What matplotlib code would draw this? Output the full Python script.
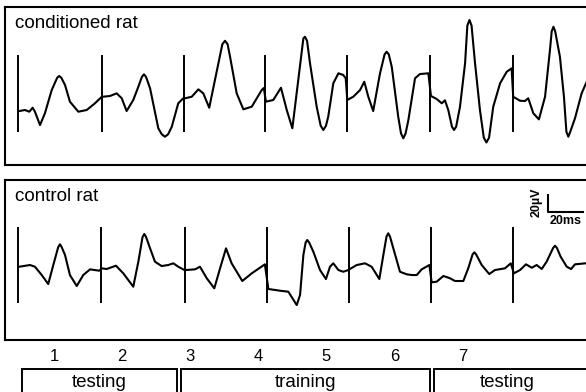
import matplotlib
matplotlib.use("Agg")
import matplotlib.pyplot as plt
from matplotlib.patches import Rectangle

plt.rcParams['font.family'] = ['Liberation Sans', 'DejaVu Sans']

# evoked potentials, time in ms from first stimulus, amplitude in uV
cond_t = [0.6, 3.8, 6.3, 8.2, 9.5, 12.4, 15.2, 19.1, 22.2, 23.4, 24.6, 26.7, 29.5, 34.3, 39.1, 43.8, 47.7,
	48.2, 52.4, 56.2, 59.1, 61.9, 65.7, 68.6, 70.6, 71.8, 73.0, 75.3, 80.0, 82.0, 83.8, 85.6, 87.7, 91.4, 94.3,
	95.3, 99.1, 102.9, 105.7, 109.1, 112.4, 116.6, 118.1, 119.6, 121.0, 124.8, 128.6, 133.4, 139.1, 140.3,
	141.5, 145.7, 150.1, 153.4, 156.6, 160.0, 162.9, 163.8, 165.0, 166.7, 170.5, 172.8, 174.3, 175.8, 177.1, 180.0, 182.9, 185.7, 187.1,
	188.0, 191.4, 195.3, 197.7, 200.0, 202.8, 206.7, 209.3, 210.5, 211.7, 213.4, 217.1, 218.7, 220.0, 221.3, 222.9, 226.7, 229.5, 234.3,
	235.8, 239.1, 242.0, 243.8, 245.7, 247.8, 249.0, 250.2, 252.4, 255.3, 256.6, 257.8, 259.0, 261.0, 263.8, 266.0, 267.5, 269.0, 271.4, 275.3, 279.1, 281.9,
	282.8, 286.7, 289.5, 291.4, 294.3, 297.5, 301.0, 303.8, 304.8, 305.8, 306.8, 309.5, 311.8, 313.2, 314.3, 315.4, 318.1, 321.9, 324.8]
cond_v = [-20.6, -19.4, -21.4, -16.7, -21.4, -37.1, -23.3, 4.1, 18.5, 20.6, 18.5, 10.0, -9.6, -21.4, -19.4, -11.5, -3.8,
	-3.8, -2.9, 0.2, -5.6, -20.6, -7.6, 8.0, 19.5, 22.6, 19.5, 6.1, -40.9, -48.0, -50.8, -48.0, -39.1, -11.5, -5.6,
	-5.6, -3.8, 4.9, 0.2, -16.7, 15.9, 58.0, 62.1, 58.0, 43.3, 0.2, -18.6, -15.5, 4.1, 6.5,
	-9.6, -7.6, 6.8, -19.4, -40.9, 15.9, 64.9, 66.8, 62.0, 35.5, -15.5, -38.0, -42.9, -38.0, -27.3, 12.0, 23.8, 21.8, 17.9,
	-7.6, -3.8, 4.1, 13.9, -3.8, -20.6, 23.8, 46.0, 49.2, 46.0, 31.5, -27.3, -47.0, -52.7, -47.0, -31.2, 17.9, 22.9, 23.8,
	-2.9, -6.5, -11.5, -8.0, -19.4, -39.0, -42.9, -39.0, -15.5, 35.5, 80.0, 86.5, 80.0, 35.5, -19.4, -52.0, -57.6, -52.0, -15.5, 12.0, 25.6, 29.6,
	-3.8, -8.5, -8.8, -5.6, -23.3, -30.4, -3.8, 51.2, 73.0, 78.6, 73.0, 43.3, -3.8, -45.0, -50.8, -45.0, -29.2, 0.2, 13.9]
cond_stim = [0, 47.6, 94.7, 140.9, 187.6, 235.3, 282.5]

ctrl_t = [0.6, 6.7, 9.5, 13.4, 17.1, 20.0, 22.8, 23.8, 24.8, 26.7, 29.5, 33.4, 37.1, 41.0, 46.3,
	47.7, 50.5, 55.8, 60.0, 65.7, 68.6, 71.0, 72.0, 73.0, 75.3, 78.1, 81.9, 85.7, 88.6, 91.4, 94.9,
	95.7, 101.0, 103.8, 107.7, 112.0, 115.3, 118.7, 121.9, 128.0, 133.4, 140.9,
	142.9, 149.5, 154.3, 159.1, 161.0, 162.9, 164.2, 165.1, 166.2, 168.6, 172.4, 175.8, 178.1, 180.0, 182.9, 185.7, 188.6,
	189.5, 193.4, 198.1, 201.9, 206.3, 208.6, 210.4, 211.4, 212.4, 214.3, 218.1, 221.9, 224.8, 227.7, 230.5, 234.9,
	236.2, 239.1, 242.9, 246.7, 249.5, 254.3, 257.1, 259.6, 260.6, 261.6, 264.8, 269.1, 272.4, 278.1, 281.4,
	283.2, 286.7, 290.1, 293.4, 296.2, 299.1, 301.9, 305.6, 306.7, 307.8, 309.9, 313.4, 315.9, 318.1, 324.2]
ctrl_v = [-2.0, 0.0, -2.0, -11.8, -22.4, 0.0, 21.0, 24.4, 21.0, 11.8, -11.8, -24.7, -11.8, -5.1, -6.7,
	-3.9, -4.7, -0.8, -9.8, -25.5, 3.9, 33.0, 36.5, 33.0, 19.6, 3.9, -1.2, 0.0, 2.0, -2.0, -5.9,
	-5.9, -5.1, -2.0, -15.6, -27.4, -3.9, 19.6, 2.0, -18.8, -9.8, 0.8,
	-28.2, -30.2, -31.4, -47.1, -35.3, 11.8, 26.5, 29.4, 26.5, 15.6, -5.9, -16.5, -2.0, 2.0, -5.9, -7.9, -5.9,
	-4.7, 0.0, 2.0, -2.0, -16.5, 11.8, 33.5, 37.3, 33.5, 19.6, -7.9, -10.9, -11.8, -11.8, -5.1, 0.0,
	-20.4, -19.6, -12.9, -15.6, -18.8, -18.8, -3.9, 12.5, 14.9, 12.5, 0.0, -10.6, -5.9, -3.9, 2.0,
	-9.8, -5.9, 0.8, -3.2, 0.0, -4.7, 3.9, 20.0, 22.7, 20.0, 9.8, -2.0, -4.7, 0.8, 2.0]
ctrl_stim = [0, 47.1, 95.3, 142.3, 189.1, 235.7, 282.5]

days = [1, 2, 3, 4, 5, 6, 7]
phases = [("testing", 0.52, 2.80), ("training", 2.87, 6.52), ("testing", 6.58, 9.5)]

W, H = 586, 392
fig = plt.figure(figsize=(W / 100, H / 100), dpi=100)

def trace_panel(rect, t, v, stim, label, ylim):
	ax = fig.add_axes(rect)
	ax.plot(t, v, color='black', lw=1.5, solid_joinstyle='round', solid_capstyle='round')
	ax.vlines(stim, -45, 45, color='black', lw=1.4)
	ax.set_xlim(-7.6, 332.4)
	ax.set_ylim(*ylim)
	ax.set_xticks([])
	ax.set_yticks([])
	for s in ax.spines.values():
		s.set_linewidth(1.5)
	ax.text(0.0168, 0.95, label, transform=ax.transAxes, ha='left', va='top', fontsize=13.5)
	return ax

ax1 = trace_panel([5 / W, 1 - 165 / H, 595 / W, 158 / H], cond_t, cond_v, cond_stim,
	"conditioned rat", (-84.1, 101.8))
ax2 = trace_panel([5 / W, 1 - 340 / H, 595 / W, 160 / H], ctrl_t, ctrl_v, ctrl_stim,
	"control rat", (-88.2, 100.0))

# scale bar 20 uV / 20 ms
ax2.plot([302.7, 302.7, 322.7], [82.4, 62.4, 62.4], color='black', lw=1.5)
ax2.text(299.5, 74, "20µV", rotation=90, ha='right', va='center', fontsize=9, fontweight='bold')
ax2.text(312.7, 58.5, "20ms", ha='center', va='top', fontsize=9, fontweight='bold')

ax3 = fig.add_axes([0, 0, 1, 47 / H])
ax3.set_xlim(13.7 / 68, 599.7 / 68)
ax3.set_ylim(0, 1)
ax3.axis('off')
for d in days:
	ax3.text(d, 0.75, str(d), ha='center', va='center', fontsize=12)
for name, a, b in phases:
	ax3.add_patch(Rectangle((a, -0.2), b - a, 0.69, fill=False, ec='black', lw=1.4, clip_on=False))
	ax3.text((a + min(b, 8.75)) / 2, 0.2, name, ha='center', va='center', fontsize=13.5)

fig.savefig("out.png", dpi=100)
